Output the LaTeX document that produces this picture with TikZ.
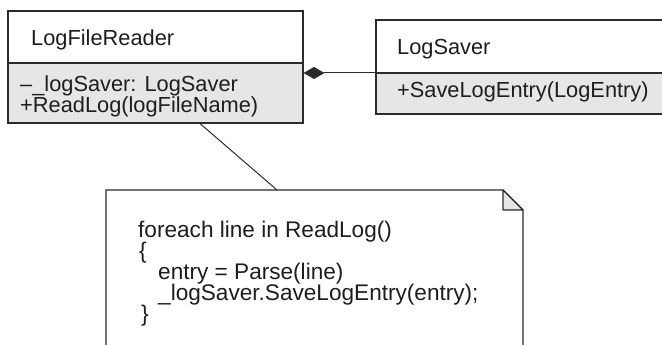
\documentclass[tikz,border=0pt]{standalone}
\usepackage{fontspec}
\setmainfont{Liberation Sans}
\usetikzlibrary{arrows.meta}
\definecolor{ln}{HTML}{2B2B2B}
\definecolor{cmp}{HTML}{E6E6E6}
\definecolor{tx}{HTML}{1E1E1E}
\begin{document}
\begin{tikzpicture}[x=1pt,y=-1pt,
  lbl/.style={anchor=base west,inner sep=0pt,text=tx,font=\fontsize{21.8}{21.8}\selectfont},
  code/.style={anchor=base west,inner sep=0pt,text=tx,font=\fontsize{22.6}{22.6}\selectfont},
  edge/.style={draw=ln,line width=1.1pt},
  conn/.style={draw=ln,line width=1pt}]
\useasboundingbox (0,0) rectangle (662,345);
% LogFileReader
\fill[cmp] (8,63) rectangle (303,123);
\node[edge,rectangle,minimum width=295pt,minimum height=112pt,inner sep=0pt] (lfr) at (155.5,67) {};
\draw[edge] (8,63) -- (303,63);
\node[lbl] (lfrname) at (31,46) {LogFileReader};
\node[lbl] (lfra) at (20,92) {–\_logSaver: LogSaver};
\node[lbl] (lfrb) at (20,113) {+ReadLog(logFileName)};
% LogSaver
\fill[cmp] (376,73) rectangle (700,114);
\node[edge,rectangle,minimum width=324pt,minimum height=94pt,inner sep=0pt] (ls) at (538,67) {};
\draw[edge] (376,73) -- (700,73);
\node[lbl] (lsname) at (397,55) {LogSaver};
\node[lbl] (lsop) at (397,98) {+SaveLogEntry(LogEntry)};
% Note
\coordinate (nt) at (277,190);
\fill[white] (106,360) -- (106,190) -- (503,190) -- (523,210) -- (523,360) -- cycle;
\draw[edge] (106,360) -- (106,190) -- (503,190) -- (523,210) -- (523,360);
\filldraw[edge,fill=cmp,line join=round] (503,190) -- (503,210) -- (523,210) -- cycle;
\node[code] (c1) at (138,237) {foreach line in ReadLog()};
\node[code] (c2) at (139,258) {\{};
\node[code] (c3) at (158,279.5) {entry = Parse(line)};
\node[code] (c4) at (158,300.5) {\_logSaver.SaveLogEntry(entry);};
\node[code] (c5) at (141,321.5) {\}};
% connectors
\draw[conn,{Diamond[length=21pt,width=12pt]}-] (lfr.east |- 0,73) -- (ls.west |- 0,73);
\draw[conn] (lfr.south -| 200,0) -- (nt);
\end{tikzpicture}
\end{document}
